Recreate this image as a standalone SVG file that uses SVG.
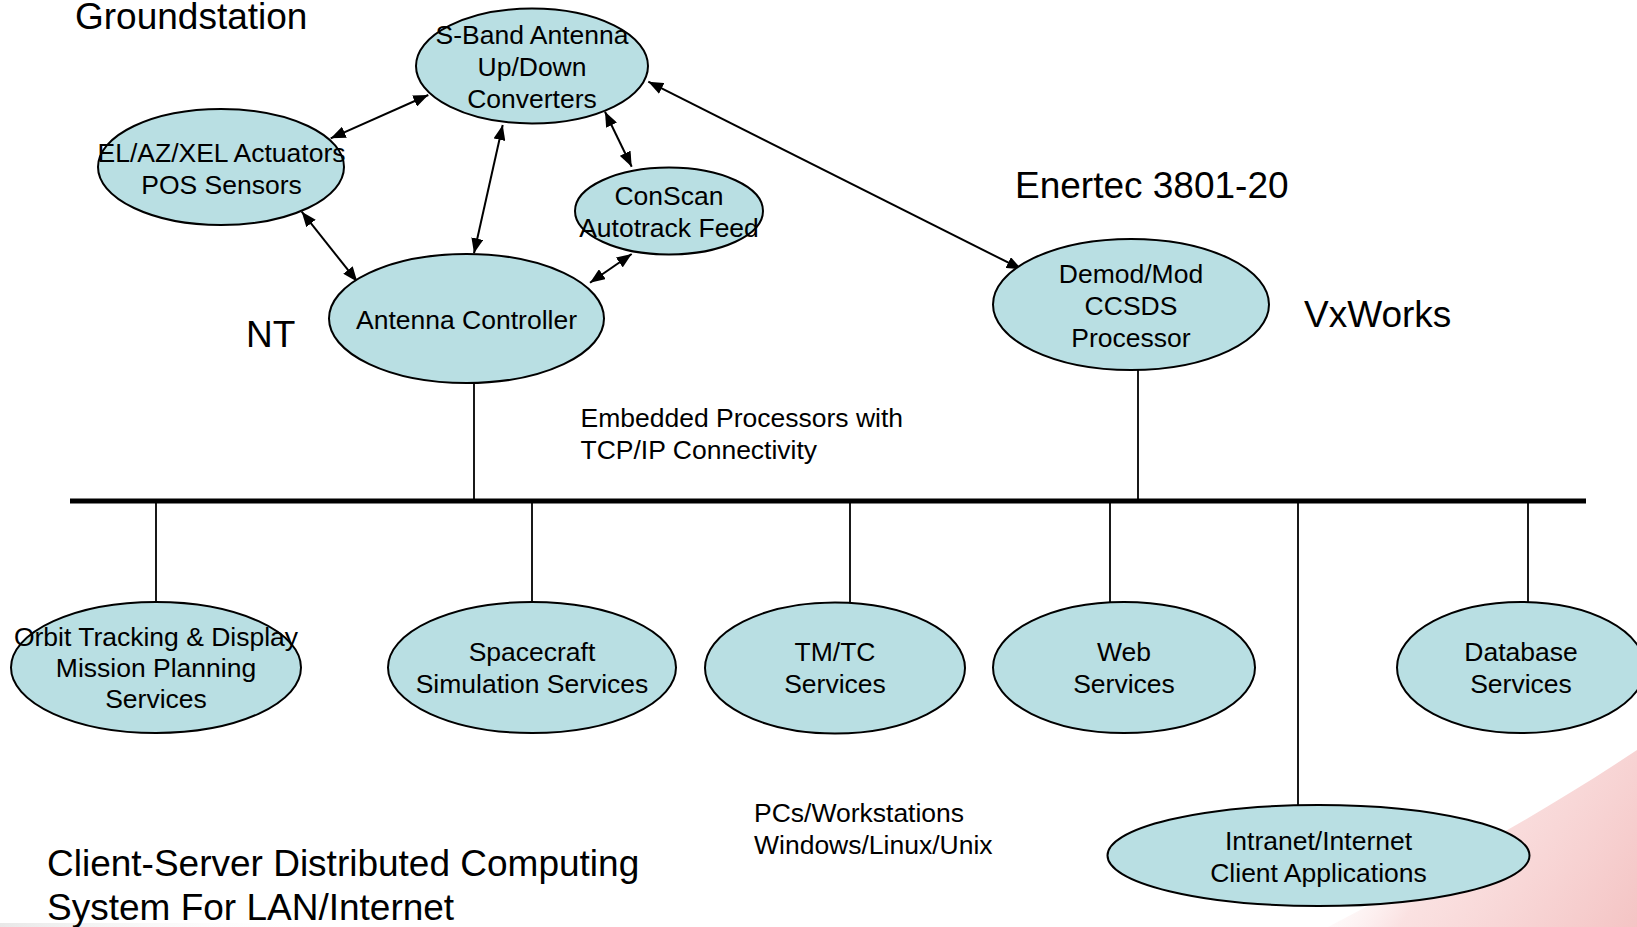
<svg xmlns="http://www.w3.org/2000/svg" width="1637" height="927" viewBox="0 0 1637 927">
<style>
  .node ellipse { fill: #B9DFE3; stroke: #000; stroke-width: 2; }
  .node text, .lbl { font-family: "Liberation Sans", Arial, sans-serif; font-size: 26.5px; fill: #000; }
  .node text { text-anchor: middle; }
  .big { font-family: "Liberation Sans", Arial, sans-serif; font-size: 37px; fill: #000; }
  .arrow { stroke: #000; stroke-width: 2; fill: none; marker-start: url(#ah); marker-end: url(#ah); }
  .drop { stroke: #000; stroke-width: 1.8; fill: none; }
  .bus { stroke: #000; stroke-width: 5; fill: none; }
</style>
<defs>
  <marker id="ah" viewBox="0 0 15 12" refX="15" refY="6" markerWidth="15" markerHeight="12" markerUnits="userSpaceOnUse" orient="auto-start-reverse">
    <path d="M0,0 L15,6 L0,12 z" fill="#000"/>
  </marker>
  <linearGradient id="swoosh" x1="1380" y1="760" x2="1637" y2="927" gradientUnits="userSpaceOnUse">
    <stop offset="0" stop-color="#FFFFFF" stop-opacity="0"/>
    <stop offset="0.35" stop-color="#F9DADA" stop-opacity="0.8"/>
    <stop offset="1" stop-color="#F4C4C4"/>
  </linearGradient>
  <linearGradient id="grayfade" x1="0" y1="0" x2="1" y2="0">
    <stop offset="0" stop-color="#E8E8E8"/>
    <stop offset="1" stop-color="#FFFFFF" stop-opacity="0"/>
  </linearGradient>
</defs>
<rect width="1637" height="927" fill="#FFFFFF"/>
<path d="M1328,927 C1420,878 1520,828 1637,750 L1637,927 Z" fill="url(#swoosh)"/>
<rect x="0" y="923" width="320" height="4" fill="url(#grayfade)"/>

<g id="connectors">
  <line class="bus" x1="70" y1="501" x2="1586" y2="501"/>
  <line class="drop" x1="474" y1="383" x2="474" y2="501"/>
  <line class="drop" x1="1138" y1="370" x2="1138" y2="501"/>
  <line class="drop" x1="156" y1="501" x2="156" y2="602"/>
  <line class="drop" x1="532" y1="501" x2="532" y2="602"/>
  <line class="drop" x1="850" y1="501" x2="850" y2="603"/>
  <line class="drop" x1="1110" y1="501" x2="1110" y2="602"/>
  <line class="drop" x1="1298" y1="501" x2="1298" y2="805"/>
  <line class="drop" x1="1528" y1="501" x2="1528" y2="602"/>
  <line class="arrow" x1="428.3" y1="95" x2="330.7" y2="138.3"/>
  <line class="arrow" x1="502.7" y1="125" x2="474" y2="253.3"/>
  <line class="arrow" x1="605" y1="111.7" x2="631.7" y2="166.7"/>
  <line class="arrow" x1="301.7" y1="211.7" x2="357.3" y2="281.7"/>
  <line class="arrow" x1="631.7" y1="254" x2="590" y2="282.7"/>
  <line class="arrow" x1="648.3" y1="81.7" x2="1021.6" y2="269.3"/>
</g>

<g id="sband" class="node">
  <ellipse cx="532" cy="66" rx="116" ry="57.5"/>
  <text x="532" y="44">S-Band Antenna</text>
  <text x="532" y="76">Up/Down</text>
  <text x="532" y="107.5">Converters</text>
</g>
<g id="elaz" class="node">
  <ellipse cx="221" cy="167" rx="123" ry="58"/>
  <text x="221.5" y="161.5">EL/AZ/XEL Actuators</text>
  <text x="221.5" y="193.5">POS Sensors</text>
</g>
<g id="conscan" class="node">
  <ellipse cx="669" cy="211" rx="94" ry="43.5"/>
  <text x="669" y="205">ConScan</text>
  <text x="669" y="237">Autotrack Feed</text>
</g>
<g id="antctrl" class="node">
  <ellipse cx="466.5" cy="318.5" rx="137.5" ry="64.5"/>
  <text x="466.5" y="329">Antenna Controller</text>
</g>
<g id="demod" class="node">
  <ellipse cx="1131" cy="304.5" rx="138" ry="65.5"/>
  <text x="1131" y="283">Demod/Mod</text>
  <text x="1131" y="314.5">CCSDS</text>
  <text x="1131" y="346.5">Processor</text>
</g>
<g id="orbit" class="node">
  <ellipse cx="156" cy="667.5" rx="145" ry="65.5"/>
  <text x="156" y="645.5">Orbit Tracking &amp; Display</text>
  <text x="156" y="677">Mission Planning</text>
  <text x="156" y="708">Services</text>
</g>
<g id="spacecraft" class="node">
  <ellipse cx="532" cy="667.5" rx="144" ry="65.5"/>
  <text x="532" y="661">Spacecraft</text>
  <text x="532" y="693">Simulation Services</text>
</g>
<g id="tmtc" class="node">
  <ellipse cx="835" cy="668" rx="130" ry="65.5"/>
  <text x="835" y="661">TM/TC</text>
  <text x="835" y="693">Services</text>
</g>
<g id="web" class="node">
  <ellipse cx="1124" cy="667.5" rx="131" ry="65.5"/>
  <text x="1124" y="661">Web</text>
  <text x="1124" y="693">Services</text>
</g>
<g id="database" class="node">
  <ellipse cx="1521" cy="667.5" rx="124" ry="65.5"/>
  <text x="1521" y="661">Database</text>
  <text x="1521" y="693">Services</text>
</g>
<g id="intranet" class="node">
  <ellipse cx="1318.5" cy="855.5" rx="211" ry="50.5"/>
  <text x="1318.5" y="850">Intranet/Internet</text>
  <text x="1318.5" y="882">Client Applications</text>
</g>

<g id="labels">
  <text class="big" x="75" y="28.5">Groundstation</text>
  <text class="big" x="1015" y="197.5">Enertec 3801-20</text>
  <text class="big" x="246" y="347">NT</text>
  <text class="big" x="1304" y="327">VxWorks</text>
  <text class="lbl" x="580.5" y="427">Embedded Processors with</text>
  <text class="lbl" x="580.5" y="458.5">TCP/IP Connectivity</text>
  <text class="lbl" x="754" y="822">PCs/Workstations</text>
  <text class="lbl" x="754" y="853.5">Windows/Linux/Unix</text>
  <text class="big" x="47" y="876">Client-Server Distributed Computing</text>
  <text class="big" x="47" y="919.5">System For LAN/Internet</text>
</g>
</svg>
